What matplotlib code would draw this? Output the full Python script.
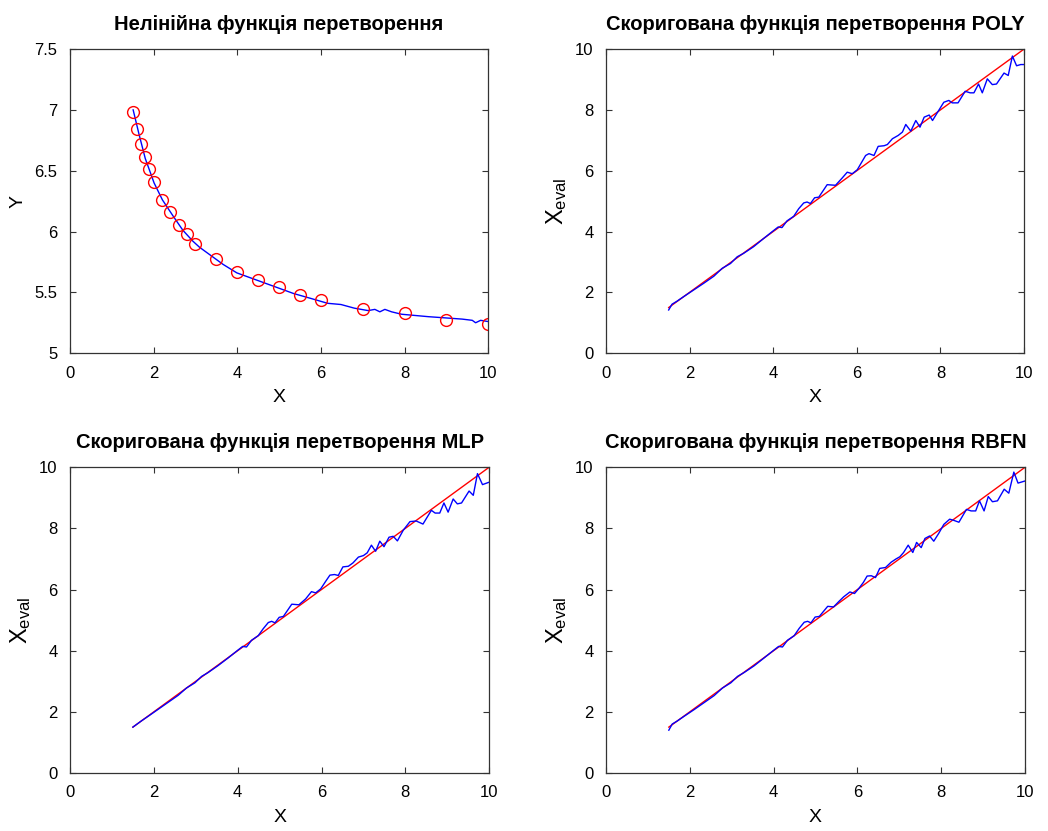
import matplotlib
matplotlib.use("Agg")
import matplotlib.pyplot as plt

plt.rcParams['font.family'] = ['Liberation Sans', 'DejaVu Sans']
plt.rcParams['mathtext.fontset'] = 'custom'
plt.rcParams['mathtext.rm'] = 'Liberation Sans'

# --- data ---
# nonlinear transfer function: measured points (red circles)
pts_x = [1.5, 1.6, 1.7, 1.8, 1.9, 2.0, 2.2, 2.4, 2.6, 2.8, 3.0, 3.5, 4.0, 4.5,
         5.0, 5.5, 6.0, 7.0, 8.0, 9.0, 10.0]
pts_y = [6.98, 6.84, 6.72, 6.61, 6.51, 6.41, 6.26, 6.16, 6.05, 5.98, 5.90, 5.77,
         5.67, 5.60, 5.54, 5.48, 5.44, 5.36, 5.33, 5.27, 5.24]

# nonlinear transfer function: blue curve
curve_x = [1.51, 1.65, 1.80, 2.01, 2.21, 2.46, 2.70, 2.94, 3.10, 3.34, 3.66, 3.99,
           4.31, 4.63, 4.95, 5.35, 5.76, 6.16, 6.48, 6.80, 7.13, 7.29, 7.41, 7.53,
           7.69, 7.93, 8.25, 8.57, 8.98, 9.38, 9.62, 9.70, 9.82, 10.0]
curve_y = [7.00, 6.80, 6.60, 6.40, 6.26, 6.13, 6.01, 5.92, 5.87, 5.81, 5.73, 5.66,
           5.62, 5.58, 5.54, 5.49, 5.45, 5.41, 5.40, 5.37, 5.35, 5.36, 5.34, 5.36,
           5.34, 5.32, 5.31, 5.30, 5.29, 5.28, 5.27, 5.25, 5.27, 5.26]

# ideal line
ideal_x = [1.5, 10.0]
ideal_y = [1.5, 10.0]

# corrected function, POLY
poly_x = [1.50, 1.58, 1.70, 1.86, 2.10, 2.34, 2.58, 2.78, 2.98, 3.14, 3.29, 3.53,
          3.77, 3.97, 4.12, 4.21, 4.33, 4.49, 4.61, 4.73, 4.81, 4.89, 4.99, 5.09,
          5.29, 5.49, 5.65, 5.77, 5.89, 6.01, 6.21, 6.29, 6.41, 6.51, 6.65, 6.73,
          6.85, 6.99, 7.09, 7.17, 7.29, 7.41, 7.51, 7.61, 7.73, 7.81, 7.93, 8.08,
          8.20, 8.28, 8.42, 8.59, 8.71, 8.80, 8.91, 9.00, 9.12, 9.24, 9.34, 9.52,
          9.62, 9.72, 9.82, 9.92, 10.0]
poly_y = [1.42, 1.61, 1.71, 1.86, 2.08, 2.30, 2.53, 2.79, 2.95, 3.17, 3.28, 3.50,
          3.77, 3.99, 4.15, 4.13, 4.35, 4.50, 4.75, 4.94, 4.97, 4.92, 5.11, 5.13,
          5.54, 5.52, 5.76, 5.95, 5.90, 6.03, 6.50, 6.56, 6.50, 6.80, 6.82, 6.86,
          7.05, 7.16, 7.27, 7.52, 7.30, 7.65, 7.43, 7.76, 7.83, 7.65, 7.92, 8.25,
          8.31, 8.23, 8.23, 8.61, 8.56, 8.56, 8.85, 8.56, 9.02, 8.83, 8.85, 9.21,
          9.13, 9.77, 9.45, 9.49, 9.49]

# corrected function, MLP
mlp_x = [1.50, 1.70, 1.86, 2.10, 2.34, 2.58, 2.78, 2.98, 3.14, 3.29, 3.53, 3.77,
         3.97, 4.12, 4.21, 4.33, 4.49, 4.61, 4.73, 4.81, 4.89, 4.99, 5.09, 5.29,
         5.46, 5.62, 5.76, 5.86, 5.98, 6.10, 6.20, 6.31, 6.40, 6.51, 6.64, 6.75,
         6.88, 7.00, 7.09, 7.19, 7.29, 7.39, 7.49, 7.61, 7.71, 7.81, 7.95, 8.11,
         8.26, 8.42, 8.62, 8.71, 8.82, 8.92, 9.02, 9.14, 9.24, 9.34, 9.52, 9.62,
         9.72, 9.84, 10.0]
mlp_y = [1.50, 1.70, 1.85, 2.08, 2.31, 2.54, 2.78, 2.95, 3.16, 3.28, 3.51, 3.76,
         3.98, 4.14, 4.12, 4.34, 4.49, 4.72, 4.92, 4.96, 4.91, 5.09, 5.12, 5.52,
         5.50, 5.69, 5.93, 5.89, 6.02, 6.27, 6.47, 6.49, 6.46, 6.74, 6.76, 6.87,
         7.06, 7.11, 7.20, 7.45, 7.25, 7.58, 7.40, 7.71, 7.74, 7.59, 7.94, 8.22,
         8.24, 8.14, 8.59, 8.50, 8.50, 8.83, 8.53, 8.96, 8.80, 8.83, 9.22, 9.08,
         9.79, 9.43, 9.51]

# corrected function, RBFN
rbfn_x = [1.50, 1.58, 1.70, 1.86, 2.10, 2.34, 2.58, 2.78, 2.98, 3.14, 3.29, 3.53,
          3.77, 3.97, 4.12, 4.21, 4.33, 4.49, 4.61, 4.73, 4.81, 4.89, 4.99, 5.09,
          5.29, 5.43, 5.55, 5.67, 5.82, 5.93, 6.03, 6.14, 6.23, 6.33, 6.43, 6.53,
          6.67, 6.80, 6.92, 7.01, 7.10, 7.21, 7.32, 7.41, 7.52, 7.61, 7.72, 7.82,
          7.94, 8.06, 8.20, 8.30, 8.42, 8.60, 8.71, 8.82, 8.91, 9.02, 9.12, 9.22,
          9.34, 9.50, 9.61, 9.73, 9.83, 10.0]
rbfn_y = [1.40, 1.60, 1.70, 1.85, 2.07, 2.30, 2.53, 2.78, 2.95, 3.16, 3.28, 3.50,
          3.76, 3.98, 4.14, 4.12, 4.34, 4.49, 4.73, 4.93, 4.96, 4.91, 5.10, 5.12,
          5.45, 5.43, 5.60, 5.76, 5.92, 5.87, 6.03, 6.23, 6.44, 6.45, 6.39, 6.69,
          6.72, 6.89, 7.00, 7.07, 7.21, 7.45, 7.21, 7.54, 7.37, 7.67, 7.75, 7.58,
          7.84, 8.13, 8.30, 8.26, 8.20, 8.62, 8.57, 8.57, 8.90, 8.57, 9.04, 8.87,
          8.90, 9.28, 9.15, 9.84, 9.48, 9.55]

titles = ["Нелінійна функція перетворення",
          "Скоригована функція перетворення POLY",
          "Скоригована функція перетворення MLP",
          "Скоригована функція перетворення RBFN"]
x_ticks = [0, 2, 4, 6, 8, 10]
y_ticks_tl = [5, 5.5, 6, 6.5, 7, 7.5]
y_ticklabels_tl = ["5", "5.5", "6", "6.5", "7", "7.5"]
y_ticks_c = [0, 2, 4, 6, 8, 10]

fig = plt.figure(figsize=(10.48, 8.31), dpi=100)
positions = [[0.0668, 0.575, 0.399, 0.366],
             [0.5782, 0.575, 0.399, 0.366],
             [0.0668, 0.0698, 0.400, 0.368],
             [0.5782, 0.0698, 0.400, 0.368]]
axes = [fig.add_axes(p) for p in positions]


def style(ax, title):
    ax.set_title(title, fontsize=14.5, fontweight='bold', pad=14)
    ax.tick_params(direction='in', top=True, right=True, length=4,
                   labelsize=12, color='0.2', pad=9)
    for s in ax.spines.values():
        s.set_color('0.2')
        s.set_linewidth(0.9)
    ax.set_xlim(0, 10)
    ax.set_xticks(x_ticks)
    ax.set_xlabel("X", fontsize=14, labelpad=6)


# top-left
ax = axes[0]
ax.plot(curve_x, curve_y, color='blue', lw=1.0)
ax.plot(pts_x, pts_y, 'o', mfc='none', mec='red', ms=8.5, mew=1.0)
style(ax, titles[0])
ax.set_ylim(5, 7.5)
ax.set_yticks(y_ticks_tl)
ax.set_yticklabels(y_ticklabels_tl)
ax.set_ylabel("Y", fontsize=14, labelpad=6)

for ax, xs, ys, t in zip(axes[1:], [poly_x, mlp_x, rbfn_x],
                         [poly_y, mlp_y, rbfn_y], titles[1:]):
    ax.plot(ideal_x, ideal_y, color='red', lw=1.0)
    ax.plot(xs, ys, color='blue', lw=1.0)
    style(ax, t)
    ax.set_ylim(0, 10)
    ax.set_yticks(y_ticks_c)
    ax.set_ylabel(r"$\mathrm{X_{eval}}$", fontsize=17, labelpad=4)

fig.savefig("out.png", dpi=100)
